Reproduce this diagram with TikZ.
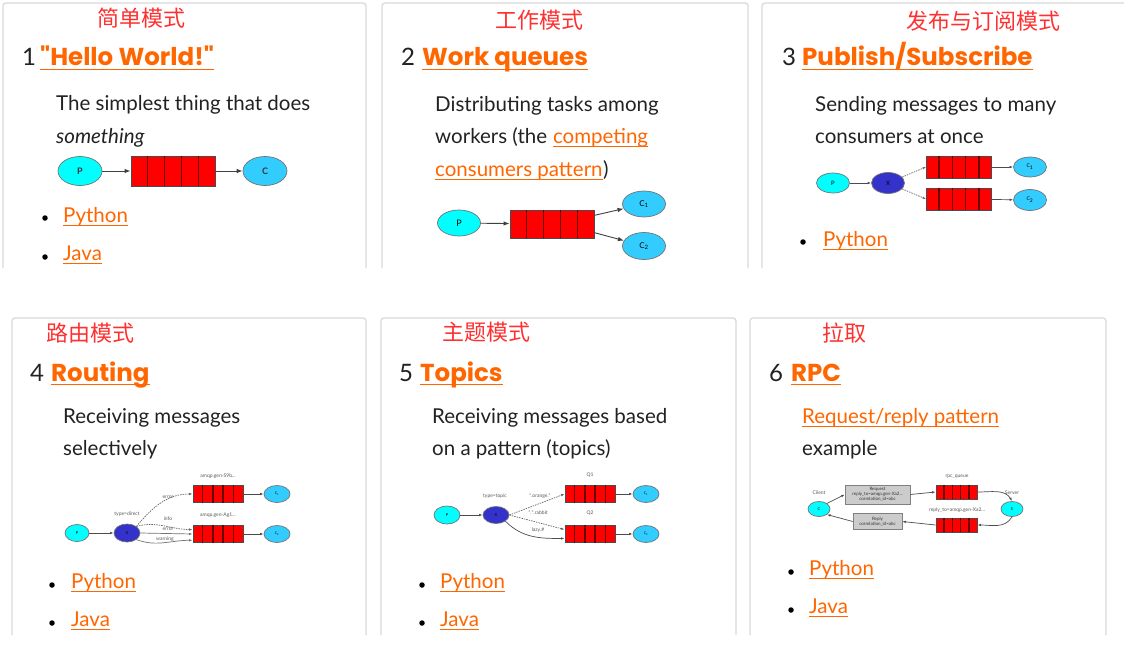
\documentclass[tikz,border=0pt]{standalone}
\usepackage{fontspec}
\setmainfont{Lato}
\newfontfamily\headfont{Poppins}
\newfontfamily\cjk{Noto Sans CJK SC}
\usetikzlibrary{shapes.geometric,arrows.meta,calc}
\definecolor{linkor}{HTML}{FF6600}
\definecolor{cnred}{HTML}{FF3030}
\definecolor{framec}{HTML}{D9D9D9}
\definecolor{txt}{HTML}{222222}
\definecolor{pcyan}{HTML}{00FFFF}
\definecolor{cblue}{HTML}{33CCFF}
\definecolor{xblue}{HTML}{3333CC}
\definecolor{qred}{HTML}{FF0000}
\definecolor{qdark}{HTML}{6A0000}
\definecolor{notegray}{HTML}{CCCCCC}
% underline a named node: \ulk{name} for body links, \uhd{name} for headings
\newcommand\ulk[1]{\draw[linkor, line width=0.9pt] ([yshift=-2.5pt]#1.base west) -- ([yshift=-2.5pt]#1.base east);}
\newcommand\uhd[1]{\draw[linkor, line width=1.8pt] ([yshift=-3.5pt]#1.base west) -- ([yshift=-3.5pt]#1.base east);}
% cell dividers of a queue node
\newcommand\qcut[2]{($(#1.north west)!#2!(#1.north east)$) -- ($(#1.south west)!#2!(#1.south east)$)}
\newcommand\qdiv[1]{\draw[qline] \qcut{#1}{0.2} \qcut{#1}{0.4} \qcut{#1}{0.6} \qcut{#1}{0.8};}
\tikzset{
  panel/.style={draw=framec, line width=1.3pt, rounded corners=3pt},
  cn/.style={text=cnred, font=\cjk\fontsize{22}{26}\selectfont, inner sep=0pt, anchor=west},
  num/.style={text=txt, font=\fontsize{24}{28}\selectfont, inner sep=0pt, anchor=base west},
  head/.style={text=linkor, font=\headfont\bfseries\fontsize{24.5}{28}\selectfont, inner sep=0pt, anchor=base west},
  body/.style={text=txt, font=\fontsize{20.5}{24}\selectfont, inner sep=0pt, anchor=west, text height=15pt, text depth=4.5pt},
  lnk/.style={body, text=linkor},
  bul/.style={circle, fill=black, inner sep=0pt, minimum size=5.5pt},
  ell/.style={ellipse, draw=black!55, line width=0.7pt, inner sep=0pt},
  pn/.style={ell, fill=pcyan},
  cnode/.style={ell, fill=cblue},
  xn/.style={ell, fill=xblue},
  queue/.style={draw=black!70, fill=qred, line width=0.9pt, inner sep=0pt},
  qline/.style={draw=qdark, line width=1.5pt},
  arr/.style={-{Latex[length=6pt,width=4.5pt]}, draw=black!75, line width=0.9pt},
  sarr/.style={-{Latex[length=3.5pt,width=2.5pt]}, draw=black!70, line width=0.7pt},
  sdash/.style={sarr, dash pattern=on 1.5pt off 1pt, draw=black!60},
  tiny/.style={text=black!65, font=\fontsize{5}{6}\selectfont, inner sep=0pt},
  lbl/.style={font=\bfseries\fontsize{9}{10}\selectfont, text=black!80},
  note/.style={fill=notegray, draw=black!50, line width=0.6pt, inner sep=0pt, align=center, font=\fontsize{4.5}{5}\selectfont, text=black!80},
}
\begin{document}
\begin{tikzpicture}[x=1pt,y=-1pt]
\useasboundingbox[fill=white] (0,0) rectangle (1124,669);
% frames
\draw[panel] (3,268) -- (3,3) -- (366,3) -- (366,268);
\draw[panel] (382,268) -- (382,3) -- (748,3) -- (748,268);
\draw[panel] (762,268) -- (762,3) -- (1140,3);
\draw[panel] (12,635) -- (12,318) -- (366,318) -- (366,635);
\draw[panel] (381,635) -- (381,318) -- (736,318) -- (736,635);
\draw[panel] (750,635) -- (750,318) -- (1106,318) -- (1106,635);

% ---------- panel 1
\node[cn] (cn1) at (97,18) {简单模式};
\node[num] (n1) at (22,66) {1};
\node[head] (h1) at (40,66) {"Hello World!"}; \uhd{h1}
\node[body] (b11) at (56,105.5) {The simplest thing that does};
\node[body] (b12) at (56,138.5) {\itshape something};
\node[pn, minimum width=44pt, minimum height=29pt, lbl] (p1) at (80,171) {P};
\node[queue, minimum width=84pt, minimum height=30pt] (q1) at (173,171) {}; \qdiv{q1}
\node[cnode, minimum width=44pt, minimum height=29pt, lbl] (c1) at (265,171) {C};
\draw[arr] (p1) -- (q1);
\draw[arr] (q1) -- (c1);
\node[bul] (d11) at (45,218) {};
\node[lnk] (l11) at (63,217.5) {Python}; \ulk{l11}
\node[bul] (d12) at (45,257) {};
\node[lnk] (l12) at (63,255.5) {Java}; \ulk{l12}

% ---------- panel 2
\node[cn] (cn2) at (495,20) {工作模式};
\node[num] (n2) at (401,66) {2};
\node[head] (h2) at (422,66) {Work queues}; \uhd{h2}
\node[body] (b21) at (435,106.5) {Distributing tasks among};
\node[body] (b22) at (435,138.5) {workers (the};
\node[lnk, anchor=base west] (b22l) at ([xshift=5.5pt]b22.base east) {competing}; \ulk{b22l}
\node[lnk] (b23l) at (435,171.5) {consumers pattern}; \ulk{b23l}
\node[body, anchor=base west] (b23) at (b23l.base east) {)};
\node[pn, minimum width=43pt, minimum height=26pt, font=\fontsize{9}{10}\selectfont] (p2) at (459,223) {P};
\node[queue, minimum width=84pt, minimum height=28pt] (q2) at (552,224) {}; \qdiv{q2}
\node[cnode, minimum width=43pt, minimum height=26pt, font=\fontsize{8}{9}\selectfont] (c21) at (644,204) {C\textsubscript{1}};
\node[cnode, minimum width=43pt, minimum height=27pt, font=\fontsize{8}{9}\selectfont] (c22) at (644,246) {C\textsubscript{2}};
\draw[arr] (p2) -- (q2);
\draw[arr] ($(q2.north east)!0.2!(q2.south east)$) -- (c21);
\draw[arr] ($(q2.north east)!0.8!(q2.south east)$) -- (c22);

% ---------- panel 3
\node[cn] (cn3) at (906,21) {发布与订阅模式};
\node[num] (n3) at (782,66) {3};
\node[head] (h3) at (802,66) {Publish/Subscribe}; \uhd{h3}
\node[body] (b31) at (815,106.5) {Sending messages to many};
\node[body] (b32) at (815,138.5) {consumers at once};
\node[pn, minimum width=33pt, minimum height=20pt, font=\fontsize{6}{7}\selectfont] (p3) at (833,183) {P};
\node[xn, minimum width=33pt, minimum height=21pt, font=\fontsize{6}{7}\selectfont] (x3) at (888,183) {X};
\node[queue, minimum width=65pt, minimum height=22pt] (q31) at (959,167) {}; \qdiv{q31}
\node[queue, minimum width=65pt, minimum height=22pt] (q32) at (959,199) {}; \qdiv{q32}
\node[cnode, minimum width=33pt, minimum height=20pt, font=\fontsize{5}{6}\selectfont] (c31) at (1030,167) {C\textsubscript{1}};
\node[cnode, minimum width=33pt, minimum height=21pt, font=\fontsize{5}{6}\selectfont] (c32) at (1030,200) {C\textsubscript{2}};
\draw[sarr] (p3) -- (x3);
\draw[sdash] (x3) -- (q31.west);
\draw[sdash] (x3) -- (q32.west);
\draw[sarr] (q31) -- (c31);
\draw[sarr] (q32) -- (c32);
\node[bul] (d31) at (803,242) {};
\node[lnk] (l31) at (823,241.5) {Python}; \ulk{l31}

% ---------- panel 4
\node[cn] (cn4) at (46,333) {路由模式};
\node[num] (n4) at (30,381) {4};
\node[head] (h4) at (51,381) {Routing}; \uhd{h4}
\node[body] (b41) at (63,418.5) {Receiving messages};
\node[body] (b42) at (63,450.5) {selectively};
\node[pn, minimum width=24pt, minimum height=17pt, font=\fontsize{4}{5}\selectfont] (p4) at (77,533) {P};
\node[xn, minimum width=26pt, minimum height=18pt, font=\fontsize{4}{5}\selectfont] (x4) at (127,533) {X};
\node[queue, minimum width=50pt, minimum height=17pt] (q41) at (218,494) {}; \qdiv{q41}
\node[queue, minimum width=50pt, minimum height=17pt] (q42) at (218,534) {}; \qdiv{q42}
\node[cnode, minimum width=26pt, minimum height=17pt, font=\fontsize{3.5}{4}\selectfont] (c41) at (277,494) {C\textsubscript{1}};
\node[cnode, minimum width=26pt, minimum height=17pt, font=\fontsize{3.5}{4}\selectfont] (c42) at (277,534) {C\textsubscript{2}};
\node[tiny] (t41) at (218,476) {amqp.gen-S9b...};
\node[tiny] (t42) at (218,515) {amqp.gen-Ag1...};
\node[tiny] (t43) at (127,514) {type=direct};
\node[tiny] (t44) at (168,497) {error};
\node[tiny] (t45) at (168,519) {info};
\node[tiny] (t46) at (168,529) {error};
\node[tiny] (t47) at (165,539) {warning};
\draw[sarr] (p4) -- (x4);
\draw[sdash] (x4.north east) to[out=50,in=180] (q41.west);
\draw[sdash] (x4.north east) to[out=15,in=180] ($(q42.north west)!0.25!(q42.south west)$);
\draw[sarr, draw=black!55] (x4.east) -- ($(q42.north west)!0.5!(q42.south west)$);
\draw[sarr, draw=black!55] (x4.south east) to[out=-20,in=180] ($(q42.north west)!0.85!(q42.south west)$);
\draw[sarr] (q41) -- (c41);
\draw[sarr] (q42) -- (c42);
\node[bul] (d41) at (52,585) {};
\node[lnk] (l41) at (71,583.5) {Python}; \ulk{l41}
\node[bul] (d42) at (52,623) {};
\node[lnk] (l42) at (71,621.5) {Java}; \ulk{l42}

% ---------- panel 5
\node[cn] (cn5) at (442,332) {主题模式};
\node[num] (n5) at (399,381) {5};
\node[head] (h5) at (420,381) {Topics}; \uhd{h5}
\node[body] (b51) at (432,418.5) {Receiving messages based};
\node[body] (b52) at (432,450.5) {on a pattern (topics)};
\node[pn, minimum width=26pt, minimum height=18pt, font=\fontsize{4}{5}\selectfont] (p5) at (447,515) {P};
\node[xn, minimum width=26pt, minimum height=17pt, font=\fontsize{4}{5}\selectfont] (x5) at (496,515) {X};
\node[queue, minimum width=50pt, minimum height=17pt] (q51) at (590,494) {}; \qdiv{q51}
\node[queue, minimum width=50pt, minimum height=17pt] (q52) at (590,534) {}; \qdiv{q52}
\node[cnode, minimum width=26pt, minimum height=17pt, font=\fontsize{3.5}{4}\selectfont] (c51) at (646,494) {C\textsubscript{1}};
\node[cnode, minimum width=26pt, minimum height=17pt, font=\fontsize{3.5}{4}\selectfont] (c52) at (646,534) {C\textsubscript{2}};
\node[tiny] (t51) at (590,475) {Q1};
\node[tiny] (t52) at (590,513) {Q2};
\node[tiny] (t53) at (495,496) {type=topic};
\node[tiny] (t54) at (540,496) {*.orange.*};
\node[tiny] (t55) at (538,513) {*.*.rabbit};
\node[tiny] (t56) at (538,530) {lazy.\#};
\draw[sarr] (p5) -- (x5);
\draw[sdash] (x5.east) -- (q51.west);
\draw[sdash] (x5.east) -- ($(q52.north west)!0.25!(q52.south west)$);
\draw[sarr] (x5.south east) to[out=-45,in=180] ($(q52.north west)!0.75!(q52.south west)$);
\draw[sarr] (q51) -- (c51);
\draw[sarr] (q52) -- (c52);
\node[bul] (d51) at (422,585) {};
\node[lnk] (l51) at (440,583.5) {Python}; \ulk{l51}
\node[bul] (d52) at (422,623) {};
\node[lnk] (l52) at (440,621.5) {Java}; \ulk{l52}

% ---------- panel 6
\node[cn] (cn6) at (822,333) {拉取};
\node[num] (n6) at (769,381) {6};
\node[head] (h6) at (791,381) {RPC}; \uhd{h6}
\node[lnk] (b61) at (802,418.5) {Request/reply pattern}; \ulk{b61}
\node[body] (b62) at (802,450.5) {example};
\node[pn, minimum width=22pt, minimum height=15pt, font=\fontsize{4}{5}\selectfont] (c6) at (819,509) {C};
\node[pn, minimum width=22pt, minimum height=15pt, font=\fontsize{4}{5}\selectfont] (s6) at (1012,509) {S};
\node[tiny] (t61) at (819,493) {Client};
\node[tiny] (t62) at (1012,493) {Server};
\node[note, minimum width=65pt, minimum height=19pt] (r61) at (877.5,494.5) {Request\\reply\_to=amqp.gen-Xa2...\\correlation\_id=abc};
\node[note, minimum width=49pt, minimum height=16pt] (r62) at (877.5,521.5) {Reply\\correlation\_id=abc};
\node[queue, minimum width=41pt, minimum height=14pt] (q61) at (956.5,492) {}; \qdiv{q61}
\node[queue, minimum width=41pt, minimum height=14pt] (q62) at (956.5,525) {}; \qdiv{q62}
\node[tiny] (t63) at (957,477) {rpc\_queue};
\node[tiny] (t64) at (957,510) {reply\_to=amqp.gen-Xa2...};
\draw[sarr] (c6.north east) -- (r61.west);
\draw[sarr] (r61.east) -- (q61.west);
\draw[sarr] (q61.east) to[out=0,in=120] (s6.north);
\draw[sarr] (s6.south) to[out=240,in=0] (q62.east);
\draw[sarr] (q62.west) -- (r62.east);
\draw[sarr] (r62.west) -- (c6.south east);
\node[bul] (d61) at (791,572) {};
\node[lnk] (l61) at (809,570.5) {Python}; \ulk{l61}
\node[bul] (d62) at (791,610) {};
\node[lnk] (l62) at (809,608.5) {Java}; \ulk{l62}
\end{tikzpicture}
\end{document}
